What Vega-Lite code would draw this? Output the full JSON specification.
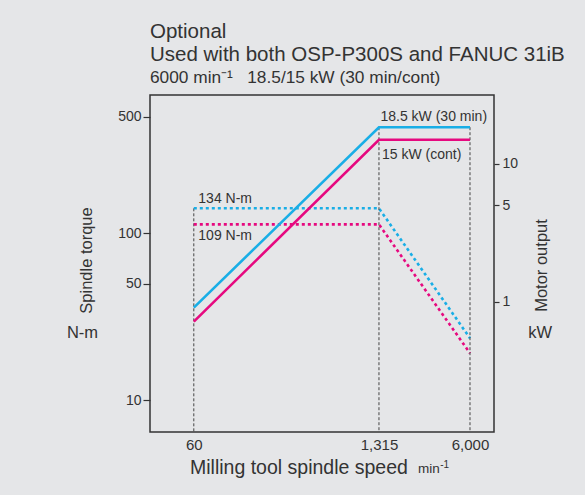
{
  "$schema": "https://vega.github.io/schema/vega-lite/v6.json",
  "width": 344,
  "height": 337,
  "autosize": {"type": "none"},
  "padding": {"left": 150, "top": 95, "right": 91, "bottom": 63},
  "background": "#e5e6e8",
  "config": {
    "font": "Liberation Sans",
    "view": {"stroke": "#333333", "strokeWidth": 1.5},
    "axis": {"domain": false, "grid": false, "labelColor": "#333333", "titleColor": "#333333", "tickColor": "#333333", "labelFont": "Liberation Sans", "titleFont": "Liberation Sans", "titleFontWeight": "normal"},
    "text": {"font": "Liberation Sans", "color": "#333333"}
  },
  "title": {
    "text": ["Optional", "Used with both OSP-P300S and FANUC 31iB"],
    "subtitle": "6000 min⁻¹\u00a0\u00a0 18.5/15 kW (30 min/cont)",
    "anchor": "start",
    "frame": "group",
    "fontSize": 20.5,
    "fontWeight": "normal",
    "color": "#333333",
    "lineHeight": 23,
    "subtitleFontSize": 17.3,
    "subtitleColor": "#333333",
    "subtitlePadding": 3,
    "offset": 9
  },
  "datasets": {
    "torque": [
      {"speed": 60, "torque": 141.3, "rating": "30 min"},
      {"speed": 1315, "torque": 141.3, "rating": "30 min"},
      {"speed": 6000, "torque": 23.5, "rating": "30 min"},
      {"speed": 60, "torque": 113.2, "rating": "cont"},
      {"speed": 1315, "torque": 113.2, "rating": "cont"},
      {"speed": 6000, "torque": 19.1, "rating": "cont"}
    ],
    "power": [
      {"speed": 60, "power": 0.905, "rating": "30 min"},
      {"speed": 1315, "power": 18.5, "rating": "30 min"},
      {"speed": 6000, "power": 18.5, "rating": "30 min"},
      {"speed": 60, "power": 0.716, "rating": "cont"},
      {"speed": 1315, "power": 15, "rating": "cont"},
      {"speed": 6000, "power": 15, "rating": "cont"}
    ],
    "torqueLabels": [
      {"speed": 60, "torque": 141.3, "label": "134 N-m", "side": "above"},
      {"speed": 60, "torque": 113.2, "label": "109 N-m", "side": "below"}
    ],
    "powerLabels": [
      {"speed": 1315, "power": 18.5, "label": "18.5 kW (30 min)", "side": "above"},
      {"speed": 1315, "power": 15, "label": "15 kW (cont)", "side": "below"}
    ],
    "notes": [
      {"label": "N-m", "speed": 9.37, "torque": 25.2, "kind": "unit"},
      {"label": "kW", "speed": 19300, "torque": 25.2, "kind": "unit"},
      {"label": "min", "speed": 2520, "torque": 3.63, "kind": "speedUnit"},
      {"label": "-1", "speed": 3650, "torque": 3.91, "kind": "exponent"}
    ],
    "torqueDrop": [{"speed": 60, "torque": 141.3}],
    "powerDrop": [{"speed": 1315, "power": 18.5}, {"speed": 6000, "power": 18.5}]
  },
  "resolve": {"scale": {"y": "independent"}},
  "layer": [
    {
      "encoding": {
        "x": {"field": "speed", "type": "quantitative",
          "scale": {"type": "log", "domain": [28.9, 8955], "nice": false},
          "axis": {"values": [60, 1315, 6000], "format": ",d", "ticks": false, "labelFontSize": 15, "labelPadding": 5,
            "title": "Milling tool spindle speed", "titleFontSize": 19.5, "titleAnchor": "start", "titleAlign": "left",
            "titleX": 39.5, "titleY": 41, "titleBaseline": "alphabetic"}},
        "y": {"field": "torque", "type": "quantitative",
          "scale": {"type": "log", "domain": [6.43, 676], "nice": false},
          "axis": {"values": [10, 50, 100, 500], "title": "Spindle torque", "titleFontSize": 16.5, "titleAngle": 270,
            "titleX": -64, "titleY": 165, "titleAlign": "center", "titleBaseline": "middle",
            "labelFontSize": 14, "tickSize": 7, "tickWidth": 1.2, "labelPadding": 2}}
      },
      "layer": [
        {
          "data": {"name": "torqueDrop"},
          "mark": {"type": "rule", "strokeDash": [3, 2], "color": "#444444", "strokeWidth": 1},
          "encoding": {"y2": {"datum": 6.43}}
        },
        {
          "data": {"name": "torque"},
          "mark": {"type": "line", "strokeDash": [3, 3], "strokeWidth": 2.6},
          "encoding": {
            "color": {"field": "rating", "type": "nominal", "scale": {"domain": ["30 min", "cont"], "range": ["#19aee6", "#e6097f"]}, "legend": null}
          }
        },
        {
          "data": {"name": "torqueLabels"},
          "transform": [{"filter": "datum.side == 'above'"}],
          "mark": {"type": "text", "align": "left", "baseline": "alphabetic", "dx": 4.5, "dy": -5.3, "fontSize": 14},
          "encoding": {"text": {"field": "label"}}
        },
        {
          "data": {"name": "torqueLabels"},
          "transform": [{"filter": "datum.side == 'below'"}],
          "mark": {"type": "text", "align": "left", "baseline": "alphabetic", "dx": 4.5, "dy": 15.7, "fontSize": 14},
          "encoding": {"text": {"field": "label"}}
        },
        {
          "data": {"name": "notes"},
          "transform": [{"filter": "datum.kind == 'unit'"}],
          "mark": {"type": "text", "align": "center", "baseline": "middle", "fontSize": 16.5, "clip": false},
          "encoding": {"text": {"field": "label"}}
        },
        {
          "data": {"name": "notes"},
          "transform": [{"filter": "datum.kind == 'speedUnit'"}],
          "mark": {"type": "text", "align": "left", "baseline": "alphabetic", "fontSize": 13.5, "clip": false},
          "encoding": {"text": {"field": "label"}}
        },
        {
          "data": {"name": "notes"},
          "transform": [{"filter": "datum.kind == 'exponent'"}],
          "mark": {"type": "text", "align": "left", "baseline": "alphabetic", "fontSize": 10, "clip": false},
          "encoding": {"text": {"field": "label"}}
        }
      ]
    },
    {
      "encoding": {
        "x": {"field": "speed", "type": "quantitative", "scale": {"type": "log", "domain": [28.9, 8955], "nice": false}},
        "y": {"field": "power", "type": "quantitative",
          "scale": {"type": "log", "domain": [0.113, 31.7], "nice": false},
          "axis": {"orient": "right", "values": [1, 5, 10], "title": "Motor output", "titleFontSize": 16.5, "titleAngle": 270,
            "titleX": 47, "titleY": 170, "titleAlign": "center", "titleBaseline": "middle",
            "labelFontSize": 14, "tickSize": 5, "tickWidth": 1.2, "labelPadding": 3}}
      },
      "layer": [
        {
          "data": {"name": "powerDrop"},
          "mark": {"type": "rule", "strokeDash": [3, 2], "color": "#444444", "strokeWidth": 1},
          "encoding": {"y2": {"datum": 0.113}}
        },
        {
          "data": {"name": "power"},
          "mark": {"type": "line", "strokeWidth": 2.6},
          "encoding": {
            "color": {"field": "rating", "type": "nominal", "scale": {"domain": ["30 min", "cont"], "range": ["#19aee6", "#e6097f"]}, "legend": null}
          }
        },
        {
          "data": {"name": "powerLabels"},
          "transform": [{"filter": "datum.side == 'above'"}],
          "mark": {"type": "text", "align": "left", "baseline": "alphabetic", "dx": 1.5, "dy": -6.5, "fontSize": 14},
          "encoding": {"text": {"field": "label"}}
        },
        {
          "data": {"name": "powerLabels"},
          "transform": [{"filter": "datum.side == 'below'"}],
          "mark": {"type": "text", "align": "left", "baseline": "alphabetic", "dx": 3, "dy": 19, "fontSize": 14},
          "encoding": {"text": {"field": "label"}}
        }
      ]
    }
  ]
}
